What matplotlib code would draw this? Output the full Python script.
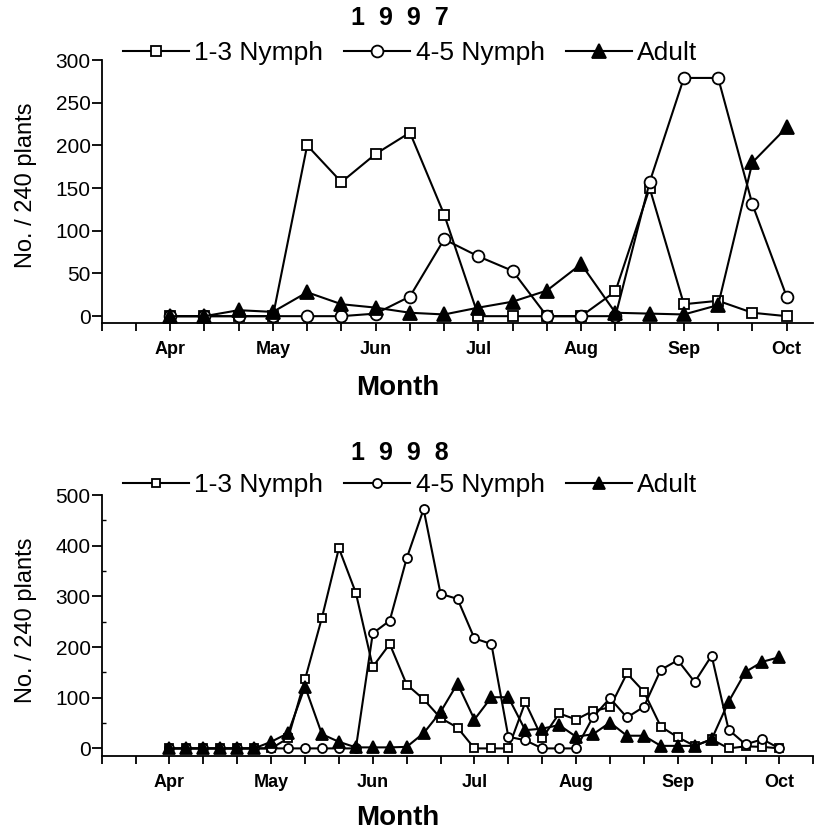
import numpy as np
import matplotlib
matplotlib.use("Agg")
import matplotlib.pyplot as plt
from matplotlib import font_manager

# sampling positions in 10-day periods (Apr = 2, May = 5, ... Oct = 20)
x97 = np.arange(2, 21, 1.0)
x98 = np.arange(2, 20.5, 0.5)

# 1997 counts per 240 plants
nymph13_97 = [0, 0, 0, 0, 200, 157, 190, 215, 119, 0, 0, 0, 0, 29, 150, 14, 18, 4, 0]
nymph45_97 = [0, 0, 0, 0, 0, 0, 3, 23, 90, 70, 53, 0, 0, 0, 157, 279, 279, 131, 23]
adult_97 = [0, 0, 7, 5, 28, 14, 10, 4, 2, 10, 17, 30, 61, 4, 3, 2, 13, 180, 221]

# 1998 counts per 240 plants
nymph13_98 = [0, 0, 0, 0, 0, 0, 0, 20, 136, 258, 395, 307, 161, 206, 126, 97, 60, 41,
              0, 0, 0, 91, 20, 69, 57, 74, 81, 148, 112, 43, 22, 5, 18, 0, 4, 3, 0]
nymph45_98 = [0, 0, 0, 0, 0, 0, 0, 0, 0, 0, 0, 0, 227, 252, 375, 472, 305, 295,
              217, 206, 23, 16, 0, 0, 0, 62, 99, 61, 82, 155, 174, 131, 183, 37, 8, 18, 0]
adult_98 = [0, 0, 0, 0, 0, 0, 13, 30, 122, 28, 13, 2, 2, 2, 3, 30, 72, 128,
            57, 101, 101, 36, 39, 46, 23, 28, 51, 25, 25, 5, 5, 5, 18, 92, 151, 171, 180]

month_pos = [2, 5, 8, 11, 14, 17, 20]
month_names = ["Apr", "May", "Jun", "Jul", "Aug", "Sep", "Oct"]
series_names = ["1-3 Nymph", "4-5 Nymph", "Adult"]

installed = {f.name for f in font_manager.fontManager.ttflist}
narrow = "Liberation Sans Narrow" in installed
plt.rcParams["font.family"] = "Liberation Sans"

W, H = 814, 834
fig = plt.figure(figsize=(W / 100, H / 100), dpi=100)


def panel(rect, xs, ys, xmax, ylim, yticks, ms, title, ty, ly, yl_y):
    ax = fig.add_axes(rect)
    styles = [dict(marker="s", mfc="white", ms=ms[0]),
              dict(marker="o", mfc="white", ms=ms[1]),
              dict(marker="^", mfc="black", ms=ms[2])]
    for y, st, name in zip(ys, styles, series_names):
        ax.plot(xs, y, color="black", lw=1.5, mec="black", mew=1.3, label=name, **st)
    ax.set_xlim(0, xmax)
    ax.set_ylim(*ylim)
    ticks = list(range(0, int(xmax) + 1))
    labels = [month_names[month_pos.index(t)] if t in month_pos else "" for t in ticks]
    ax.set_xticks(ticks, labels=labels)
    ax.set_yticks(yticks)
    ax.spines[["top", "right"]].set_visible(False)
    for s in ["left", "bottom"]:
        ax.spines[s].set_linewidth(1.3)
    ax.tick_params(axis="x", direction="out", length=6, width=1.3, pad=7,
                   labelsize=13)
    for lab in ax.get_xticklabels():
        lab.set_fontweight("bold")
    ax.tick_params(axis="y", direction="out", length=7, width=1.3, pad=1,
                   labelsize=15)
    fig.text(400 / W, 1 - ty / H, title, ha="center", va="center",
             fontsize=18, fontweight="bold")
    fig.legend(*ax.get_legend_handles_labels(), loc="center", ncol=3,
               bbox_to_anchor=(410 / W, 1 - ly / H), frameon=False,
               fontsize=19, handlelength=2.5, handletextpad=0.2,
               columnspacing=0.8, numpoints=1, borderpad=0)
    if narrow:
        fig.text(26 / W, 1 - yl_y / H, "No. / 240 plants", rotation=90,
                 ha="center", va="center", fontsize=19,
                 family="Liberation Sans Narrow")
    else:
        fig.text(26 / W, 1 - yl_y / H, "No. / 240 plants", rotation=90,
                 ha="center", va="center", fontsize=17)
    return ax


ax1 = panel([101.7 / W, 1 - 323 / H, 711.3 / W, 263 / H], x97,
            [nymph13_97, nymph45_97, adult_97], 20.77, (-8, 300),
            [0, 50, 100, 150, 200, 250, 300], (7, 8.5, 9.5), "1  9  9  7",
            18, 53, 185)
fig.text(398 / W, 1 - 388 / H, "Month", ha="center", va="center",
         fontsize=20, fontweight="bold")

ax2 = panel([101.7 / W, 1 - 756 / H, 711.6 / W, 261 / H], x98,
            [nymph13_98, nymph45_98, adult_98], 21, (-15, 500),
            [0, 100, 200, 300, 400, 500], (5.5, 6.5, 8.5), "1  9  9  8",
            453, 485, 620)
ax2.set_yticks(np.arange(50, 500, 100), minor=True)
ax2.tick_params(axis="y", which="minor", direction="in", length=3, width=1)
fig.text(398 / W, 1 - 818 / H, "Month", ha="center", va="center",
         fontsize=20, fontweight="bold")

fig.savefig("out.png", dpi=100)
